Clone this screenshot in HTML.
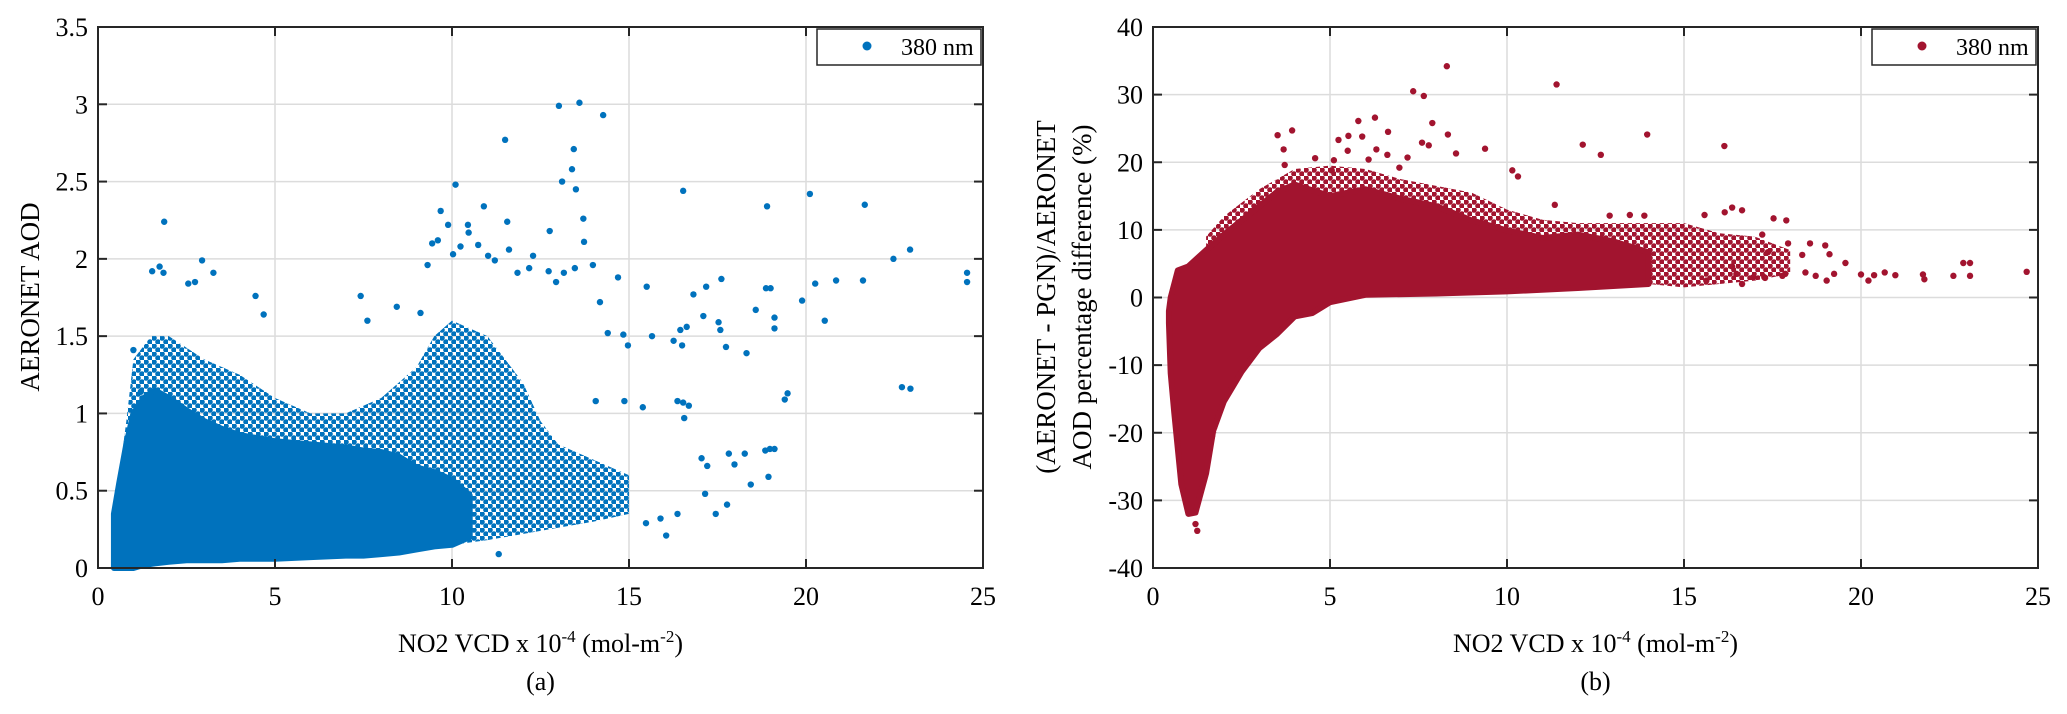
<!DOCTYPE html>
<html><head><meta charset="utf-8"><style>
html,body{margin:0;padding:0;background:#fff}
svg{display:block}
text{font-family:"Liberation Serif",serif;fill:#000}
</style></head><body>
<svg id="fig" width="2067" height="714" viewBox="0 0 2067 714" xmlns="http://www.w3.org/2000/svg">
<defs>
<pattern id="patBlue" width="8" height="8" patternUnits="userSpaceOnUse"><circle cx="2" cy="2" r="2.8" fill="#0072BD"/><circle cx="6" cy="6" r="2.8" fill="#0072BD"/></pattern>
<pattern id="patRed" width="8" height="8" patternUnits="userSpaceOnUse"><circle cx="2" cy="2" r="2.8" fill="#A2142F"/><circle cx="6" cy="6" r="2.8" fill="#A2142F"/></pattern>
</defs>
</svg>
<script>
// ---- Panel (a) data: AERONET AOD vs NO2 VCD ----
const aCoreX = [0.45,0.6,0.8,1.0,1.3,1.6,2.0,2.5,3.0,3.5,4.0,5.0,6.0,7.0,7.5,8.0,8.5,9.0,9.5,10.0,10.5];
const aCoreTop = [0.35,0.55,0.8,1.0,1.1,1.15,1.1,1.02,0.95,0.9,0.86,0.82,0.8,0.78,0.76,0.75,0.72,0.65,0.62,0.57,0.47];
const aCoreBot = [0,0,0,0,0.02,0.03,0.04,0.05,0.05,0.05,0.06,0.06,0.07,0.08,0.08,0.09,0.1,0.12,0.14,0.15,0.2];
const aHaloX = [0.6,0.8,1.0,1.5,2.0,3,4,5,6,7,8,9,9.5,10,11,12,12.5,13,14,15];
const aHaloTop = [0.6,0.95,1.35,1.5,1.5,1.35,1.25,1.1,1.0,1.0,1.1,1.3,1.5,1.6,1.5,1.2,0.95,0.8,0.7,0.6];
const aHaloBot = [0,0,0,0.02,0.04,0.05,0.06,0.06,0.07,0.08,0.09,0.12,0.14,0.15,0.18,0.22,0.24,0.26,0.3,0.35];
const aPtX = [13.02,13.60,14.27,11.50,13.44,13.39,13.11,13.50,10.10,16.53,20.11,21.66,18.90,1.87,9.68,10.90,13.71,9.89,10.45,10.47,11.56,12.76,13.73,22.94,22.47,24.55,24.55,21.61,20.85,20.26,19.89,20.53,19.00,18.87,18.58,19.11,19.11,17.61,17.18,16.82,17.10,17.53,17.58,17.74,18.32,16.63,16.45,16.26,16.50,15.50,14.69,15.65,14.97,14.84,13.98,13.47,14.18,14.40,22.71,22.95,19.40,19.48,16.37,16.53,16.69,16.56,15.39,14.87,14.06,18.85,18.98,19.11,18.94,18.44,18.27,17.98,17.82,17.77,17.45,17.05,17.21,17.15,16.05,16.37,15.48,15.89,11.32,1.00,1.21,2.94,1.53,1.74,1.85,2.55,2.74,3.26,4.45,4.68,7.42,7.61,8.44,9.11,9.31,9.44,9.60,10.03,10.24,10.74,11.02,11.21,11.61,12.29,11.85,12.18,12.73,13.16,12.94];
const aPtY = [2.99,3.01,2.93,2.77,2.71,2.58,2.50,2.45,2.48,2.44,2.42,2.35,2.34,2.24,2.31,2.34,2.26,2.22,2.22,2.17,2.24,2.18,2.11,2.06,2.00,1.91,1.85,1.86,1.86,1.84,1.73,1.60,1.81,1.81,1.67,1.62,1.55,1.87,1.82,1.77,1.63,1.59,1.54,1.43,1.39,1.56,1.54,1.47,1.44,1.82,1.88,1.50,1.44,1.51,1.96,1.94,1.72,1.52,1.17,1.16,1.09,1.13,1.08,1.07,1.05,0.97,1.04,1.08,1.08,0.76,0.77,0.77,0.59,0.54,0.74,0.67,0.74,0.41,0.35,0.71,0.66,0.48,0.21,0.35,0.29,0.32,0.09,1.41,1.14,1.99,1.92,1.95,1.91,1.84,1.85,1.91,1.76,1.64,1.76,1.60,1.69,1.65,1.96,2.10,2.12,2.03,2.08,2.09,2.02,1.99,2.06,2.02,1.91,1.94,1.92,1.91,1.85];
const aXTicks = [0,5,10,15,20,25];
const aYTicks = [0,0.5,1,1.5,2,2.5,3,3.5];
const aYTickLabels = ["0","0.5","1","1.5","2","2.5","3","3.5"];

// ---- Panel (b) data: percentage difference vs NO2 VCD ----
const bCoreX = [0.45,0.5,0.7,1.0,1.5,2.0,2.5,3.0,3.5,4.0,5.0,6.0,7.0,8.0,9.0,10.0,11.0,12.0,13.0,14.0];
const bCoreTop = [-2,0,4,4.6,7,9.3,11.4,13.5,15.6,16.7,15,16,14.6,13.5,11.4,9.9,8.8,9.3,8.3,6.7];
const bCoreBotX = [0.45,0.5,0.6,0.8,1.0,1.2,1.5,1.7,2.0,2.5,3.0,3.5,4.0,4.5,5.0,6.0,8.0,10.0,12.0,14.0];
const bCoreBot = [-3.8,-11.2,-17,-27.6,-32,-31.8,-26,-19.7,-15.4,-11,-7.5,-5.4,-2.8,-2.3,-0.7,0.4,0.6,0.9,1.4,2];
const bHaloX = [1.5,2,3,4,5,6,7,8,9,10,11,12,13,14,15,16,17,18];
const bHaloTop = [9,12,16,19,19.5,19,17.5,16.5,15.5,13,11.5,11,11,11,11,9.5,9,7];
const bHaloBot = [-26,-15.4,-7.5,-2.8,-0.7,0.4,0.5,0.6,0.8,0.9,1.2,1.4,1.7,2,1.5,2,2.5,3.5];
const bPtX = [8.30,11.40,7.35,7.65,6.27,5.80,7.89,3.93,3.52,8.33,13.96,5.52,5.91,5.24,6.64,16.14,12.14,12.65,3.69,5.50,6.31,6.09,6.62,7.60,7.79,8.56,9.38,7.19,4.58,5.11,6.96,5.05,3.72,10.15,10.31,24.68,23.08,23.08,22.89,22.61,21.79,21.75,20.97,20.67,20.37,20.21,20.0,19.56,19.24,19.03,18.72,18.43,17.86,17.78,17.29,16.96,16.64,19.11,18.99,18.56,18.34,17.94,17.89,17.53,17.21,16.36,16.15,16.64,15.58,15.63,16.36,16.48,17.37,17.27,11.35,13.47,13.88,12.9,1.2,1.25];
const bPtY = [34.2,31.5,30.5,29.8,26.6,26.1,25.8,24.7,24.0,24.1,24.1,23.9,23.8,23.3,24.5,22.4,22.6,21.1,21.9,21.7,21.9,20.4,21.1,22.9,22.5,21.3,22.0,20.7,20.6,20.3,19.2,18.8,19.6,18.8,17.9,3.8,3.2,5.1,5.1,3.2,2.7,3.4,3.3,3.7,3.3,2.5,3.4,5.1,3.5,2.5,3.2,3.7,3.5,3.2,2.9,3.0,2.0,6.4,7.7,8.0,6.3,8.0,11.4,11.7,9.3,13.3,12.6,12.9,12.2,2.5,4.6,3.5,6.7,3.0,13.7,12.2,12.1,12.1,-33.5,-34.5];
const bXTicks = [0,5,10,15,20,25];
const bYTicks = [-40,-30,-20,-10,0,10,20,30,40];

const NS = "http://www.w3.org/2000/svg";
const svg = document.getElementById('fig');
function el(tag, attrs, parent, txt){
  const e = document.createElementNS(NS, tag);
  for (const k in attrs) e.setAttribute(k, attrs[k]);
  if (txt !== undefined) e.textContent = txt;
  (parent || svg).appendChild(e);
  return e;
}

function panel(o){
  const g = el('g', {});
  
  
  const L=o.left, R=o.left+885, T=27, B=568;
  const sx = v => L + (v - o.xmin)/(o.xmax - o.xmin)*(R-L);
  const sy = v => B - (v - o.ymin)/(o.ymax - o.ymin)*(B-T);
  o.xt.forEach(v => { if (v>o.xmin && v<o.xmax){ const l = el('line',{x1:sx(v),x2:sx(v),y1:T,y2:B,stroke:'#dcdcdc','stroke-width':1.5},g);
      }});
  o.yt.forEach(v => { if (v>o.ymin && v<o.ymax){ const l = el('line',{x1:L,x2:R,y1:sy(v),y2:sy(v),stroke:'#dcdcdc','stroke-width':1.5},g);
      }});
  let pts = o.hx.map((x,i)=>sx(x)+','+sy(o.ht[i]));
  for (let i=o.hx.length-1;i>=0;i--) pts.push(sx(o.hx[i])+','+sy(o.hb[i]));
  const halo = el('polygon',{points:pts.join(' '),fill:o.pat},g);
  
  
  pts = o.cx.map((x,i)=>sx(x)+','+sy(o.ct[i]));
  for (let i=o.cbx.length-1;i>=0;i--) pts.push(sx(o.cbx[i])+','+sy(o.cb[i]));
  const core = el('polygon',{points:pts.join(' '),fill:o.color,stroke:o.color,'stroke-width':6,'stroke-linejoin':'round'},g);
  
  
  o.px.forEach((x,i)=>{
    const c = el('circle',{cx:sx(x),cy:sy(o.py[i]),r:3.2,fill:o.color},g);
    
    
  });
  const box = el('rect',{x:L,y:T,width:R-L,height:B-T,fill:'none',stroke:'#262626','stroke-width':2},g);
  
  
  o.xt.forEach(v=>{
    el('line',{x1:sx(v),x2:sx(v),y1:B,y2:B-9,stroke:'#262626','stroke-width':2},g);
    el('line',{x1:sx(v),x2:sx(v),y1:T,y2:T+9,stroke:'#262626','stroke-width':2},g);
    const t = el('text',{x:sx(v),y:605,'text-anchor':'middle','font-size':26},g,String(v));
    
    
  });
  o.yt.forEach((v,i)=>{
    el('line',{x1:L,x2:L+9,y1:sy(v),y2:sy(v),stroke:'#262626','stroke-width':2},g);
    el('line',{x1:R,x2:R-9,y1:sy(v),y2:sy(v),stroke:'#262626','stroke-width':2},g);
    const t = el('text',{x:L-10,y:sy(v)+9,'text-anchor':'end','font-size':26},g,o.ytl[i]);
    
    
  });
  const xt = el('text',{x:(L+R)/2,y:652,'text-anchor':'middle','font-size':26},g);
  
  
  xt.innerHTML = 'NO2 VCD x 10<tspan dy="-10" font-size="17">-4</tspan><tspan dy="10"> (mol-m</tspan><tspan dy="-10" font-size="17">-2</tspan><tspan dy="10">)</tspan>';
  const cap = el('text',{x:(L+R)/2,y:690,'text-anchor':'middle','font-size':26},g,o.caption);
  
  
  const lg = el('g',{},g);
  
  
  el('rect',{x:R-166,y:T+2,width:164,height:36,fill:'#fff',stroke:'#262626','stroke-width':1.5},lg);
  el('circle',{cx:R-116,cy:T+19,r:4.5,fill:o.color},lg);
  const lt = el('text',{x:R-82,y:T+28,'font-size':24},lg,'380 nm');
  
  
  return {sx,sy};
}

panel({name:'panel-a',left:98,xmin:0,xmax:25,ymin:0,ymax:3.5,xt:aXTicks,yt:aYTicks,ytl:aYTickLabels,
  hx:aHaloX,ht:aHaloTop,hb:aHaloBot,cx:aCoreX,ct:aCoreTop,cbx:aCoreX,cb:aCoreBot,px:aPtX,py:aPtY,
  color:'#0072BD',pat:'url(#patBlue)',caption:'(a)'});
panel({name:'panel-b',left:1153,xmin:0,xmax:25,ymin:-40,ymax:40,xt:bXTicks,yt:bYTicks,ytl:bYTicks.map(String),
  hx:bHaloX,ht:bHaloTop,hb:bHaloBot,cx:bCoreX,ct:bCoreTop,cbx:bCoreBotX,cb:bCoreBot,px:bPtX,py:bPtY,
  color:'#A2142F',pat:'url(#patRed)',caption:'(b)'});

const ya = el('text',{x:0,y:0,'text-anchor':'middle','font-size':27,transform:'translate(39,297) rotate(-90)'},svg,'AERONET AOD');


const yb1 = el('text',{x:0,y:0,'text-anchor':'middle','font-size':27,transform:'translate(1055,297) rotate(-90)'},svg,'(AERONET - PGN)/AERONET');


const yb2 = el('text',{x:0,y:0,'text-anchor':'middle','font-size':27,transform:'translate(1091,297) rotate(-90)'},svg,'AOD percentage difference (%)');


</script>
</body></html>
